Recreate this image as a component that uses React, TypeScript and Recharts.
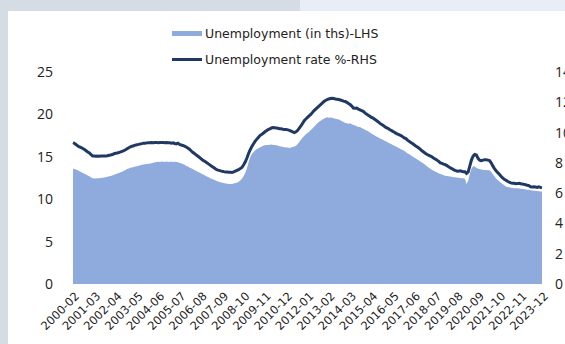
import React from 'react';
import { ComposedChart, Area, Line, XAxis, YAxis } from 'recharts';

// month labels 2000-02 .. 2023-12
const startYear = 2000;
const startMonth = 2;
const monthCount = 287;
const months: string[] = [];
for (let i = 0; i < monthCount; i++) {
  const m = startMonth - 1 + i;
  const y = startYear + Math.floor(m / 12);
  const mm = (m % 12) + 1;
  months.push(`${y}-${mm < 10 ? '0' + mm : mm}`);
}

// Unemployment (in ths) - LHS, one row per year
const unemployment = [
  13.6, 13.55, 13.48, 13.4, 13.3, 13.2, 13.1, 13.0, 12.9, 12.8, 12.7, // 2000
  12.55, 12.48, 12.45, 12.45, 12.46, 12.48, 12.5, 12.52, 12.55, 12.6, 12.65, 12.7,
  12.75, 12.8, 12.88, 12.95, 13.02, 13.1, 13.18, 13.25, 13.35, 13.45, 13.55, 13.62,
  13.7, 13.75, 13.8, 13.85, 13.9, 13.95, 14.0, 14.05, 14.1, 14.12, 14.15, 14.18,
  14.2, 14.25, 14.3, 14.35, 14.38, 14.42, 14.4, 14.45, 14.42, 14.4, 14.45, 14.42,
  14.4, 14.45, 14.38, 14.42, 14.4, 14.35, 14.3, 14.22, 14.15, 14.05, 13.95, 13.85, // 2005
  13.75, 13.65, 13.55, 13.45, 13.35, 13.25, 13.15, 13.05, 12.95, 12.85, 12.75, 12.65,
  12.55, 12.45, 12.38, 12.3, 12.2, 12.12, 12.06, 12.0, 11.95, 11.9, 11.85, 11.82,
  11.8, 11.78, 11.8, 11.85, 11.9, 11.95, 12.05, 12.2, 12.4, 12.7, 13.1, 13.6,
  14.3, 14.95, 15.3, 15.55, 15.75, 15.9, 16.0, 16.1, 16.2, 16.3, 16.35, 16.4,
  16.4, 16.42, 16.45, 16.4, 16.38, 16.35, 16.3, 16.25, 16.2, 16.15, 16.12, 16.1, // 2010
  16.1, 16.05, 16.1, 16.15, 16.2, 16.3, 16.5, 16.75, 17.0, 17.25, 17.45, 17.65,
  17.8, 17.95, 18.15, 18.35, 18.55, 18.75, 18.95, 19.1, 19.25, 19.4, 19.5, 19.6,
  19.65, 19.6, 19.62, 19.6, 19.55, 19.5, 19.45, 19.4, 19.3, 19.2, 19.1, 19.0,
  18.95, 18.9, 18.95, 18.85, 18.75, 18.7, 18.6, 18.5, 18.5, 18.4, 18.3, 18.2,
  18.1, 18.0, 17.88, 17.75, 17.62, 17.5, 17.4, 17.3, 17.2, 17.1, 17.0, 16.9, // 2015
  16.8, 16.7, 16.6, 16.5, 16.4, 16.3, 16.2, 16.1, 16.0, 15.9, 15.8, 15.7,
  15.55, 15.42, 15.3, 15.18, 15.05, 14.92, 14.8, 14.68, 14.55, 14.42, 14.3, 14.18,
  14.0, 13.85, 13.72, 13.58, 13.45, 13.35, 13.25, 13.15, 13.05, 12.98, 12.9, 12.82,
  12.78, 12.75, 12.7, 12.68, 12.65, 12.6, 12.58, 12.55, 12.52, 12.5, 12.48, 12.46,
  12.4, 11.8, 12.2, 13.0, 13.6, 13.9, 13.85, 13.7, 13.6, 13.55, 13.5, 13.48, // 2020
  13.45, 13.45, 13.42, 13.4, 13.2, 12.95, 12.7, 12.45, 12.25, 12.1, 11.95, 11.8,
  11.65, 11.5, 11.45, 11.4, 11.35, 11.32, 11.3, 11.3, 11.28, 11.25, 11.22, 11.2,
  11.2, 11.15, 11.12, 11.1, 11.05, 11.02, 11.0, 11.0, 10.98, 10.95, 10.92, 10.9,
];

// Unemployment rate % - RHS
const unemploymentRate = [
  9.33, 9.28, 9.2, 9.12, 9.05, 9.0, 8.95, 8.88, 8.8, 8.72, 8.65, // 2000
  8.55, 8.45, 8.45, 8.43, 8.45, 8.44, 8.45, 8.45, 8.46, 8.45, 8.47, 8.5,
  8.52, 8.55, 8.6, 8.63, 8.65, 8.68, 8.72, 8.76, 8.8, 8.86, 8.93, 9.0,
  9.05, 9.1, 9.13, 9.17, 9.2, 9.22, 9.25, 9.27, 9.3, 9.3, 9.32, 9.33,
  9.33, 9.34, 9.33, 9.35, 9.34, 9.33, 9.34, 9.35, 9.34, 9.33, 9.34, 9.33,
  9.33, 9.3, 9.32, 9.28, 9.25, 9.3, 9.22, 9.18, 9.15, 9.1, 9.05, 8.98, // 2005
  8.9, 8.8, 8.7, 8.62, 8.53, 8.45, 8.37, 8.28, 8.19, 8.12, 8.05, 7.98,
  7.9, 7.82, 7.75, 7.68, 7.6, 7.53, 7.5, 7.47, 7.45, 7.42, 7.4, 7.4,
  7.38, 7.38, 7.37, 7.4, 7.45, 7.5, 7.55, 7.62, 7.7, 7.86, 8.05, 8.3,
  8.6, 8.85, 9.07, 9.25, 9.42, 9.55, 9.68, 9.8, 9.88, 9.95, 10.05, 10.12,
  10.2, 10.25, 10.3, 10.33, 10.32, 10.3, 10.28, 10.25, 10.25, 10.22, 10.2, 10.2, // 2010
  10.18, 10.15, 10.1, 10.05, 10.0, 10.05, 10.15, 10.3, 10.45, 10.6, 10.78, 10.9,
  11.0, 11.1, 11.2, 11.32, 11.45, 11.55, 11.65, 11.75, 11.85, 11.95, 12.05, 12.12,
  12.18, 12.22, 12.25, 12.26, 12.25, 12.22, 12.2, 12.18, 12.15, 12.12, 12.08, 12.05,
  12.0, 11.92, 11.85, 11.75, 11.62, 11.6, 11.62, 11.55, 11.5, 11.45, 11.4, 11.3,
  11.22, 11.15, 11.08, 11.0, 10.95, 10.88, 10.8, 10.72, 10.62, 10.55, 10.48, 10.4, // 2015
  10.33, 10.28, 10.2, 10.15, 10.08, 10.02, 9.95, 9.9, 9.85, 9.8, 9.73, 9.65,
  9.6, 9.5, 9.42, 9.35, 9.28, 9.2, 9.12, 9.05, 8.97, 8.88, 8.78, 8.7,
  8.62, 8.55, 8.5, 8.45, 8.38, 8.3, 8.25, 8.18, 8.1, 8.0, 7.97, 7.92,
  7.88, 7.82, 7.75, 7.68, 7.62, 7.55, 7.5, 7.46, 7.45, 7.47, 7.45, 7.42,
  7.42, 7.3, 7.4, 7.8, 8.2, 8.45, 8.55, 8.52, 8.3, 8.18, 8.15, 8.18, // 2020
  8.2, 8.2, 8.18, 8.15, 8.0, 7.8, 7.62, 7.48, 7.35, 7.25, 7.12, 7.0,
  6.92, 6.85, 6.78, 6.72, 6.68, 6.65, 6.65, 6.62, 6.63, 6.65, 6.62, 6.6,
  6.58, 6.55, 6.52, 6.5, 6.42, 6.4, 6.42, 6.4, 6.38, 6.42, 6.38, 6.36,
];

const leftTicks = [0, 5, 10, 15, 20, 25];
const rightTicks = [0, 2, 4, 6, 8, 10, 12, 14];

const data = months.map((month, i) => ({
  month,
  level: unemployment[i],
  rate: unemploymentRate[i],
}));

const FONT = 'Open Sans, sans-serif';
const WIDE_FONT = 'DejaVu Sans, sans-serif';
const AREA_COLOR = '#8faadc';
const LINE_COLOR = '#1f3864';

const DateTick = (props: any) => {
  const { x, y, payload } = props;
  return (
    <g transform={`translate(${x + 4},${y + 2})`}>
      <text
        transform="rotate(-45)"
        textAnchor="end"
        dy="0.35em"
        fontSize={11.5}
        fontFamily={WIDE_FONT}
        fill="#222"
      >
        {payload.value}
      </text>
    </g>
  );
};

export default function App() {
  return (
    <div style={{ position: 'fixed', left: 0, top: 0, width: 565, height: 344, background: '#d6dce4', overflow: 'hidden' }}>
      <div style={{ position: 'absolute', left: 300, top: 0, width: 265, height: 11, background: '#e9edf5' }} />
      <div style={{ position: 'absolute', left: 8, top: 11, right: 0, bottom: 0, background: '#fff' }} />

      {/* legend */}
      <div style={{ position: 'absolute', left: 172, top: 24, fontFamily: WIDE_FONT, fontSize: 12.5, color: '#222' }}>
        <div style={{ display: 'flex', alignItems: 'center', height: 18 }}>
          <span style={{ display: 'inline-block', width: 30, height: 5, background: AREA_COLOR, marginRight: 3 }} />
          Unemployment (in ths)-LHS
        </div>
        <div style={{ display: 'flex', alignItems: 'center', height: 18, marginTop: 8 }}>
          <span style={{ display: 'inline-block', width: 30, height: 3, background: LINE_COLOR, marginRight: 3 }} />
          Unemployment rate %-RHS
        </div>
      </div>

      <div style={{ position: 'absolute', left: 0, top: 0 }}>
        <ComposedChart width={565} height={344} data={data} margin={{ top: 72, right: 0, bottom: 0, left: 0 }}>
          <XAxis
            dataKey="month"
            scale="point"
            interval={12}
            axisLine={false}
            tickLine={false}
            height={60}
            tick={<DateTick />}
          />
          <YAxis
            yAxisId="left"
            width={73}
            domain={[0, 25]}
            ticks={leftTicks}
            axisLine={false}
            tickLine={false}
            tickSize={0}
            tickMargin={20}
            tick={{ fontSize: 14, fontFamily: FONT, fill: '#222' }}
          />
          <YAxis
            yAxisId="right"
            orientation="right"
            width={23}
            domain={[0, 14]}
            ticks={rightTicks}
            axisLine={false}
            tickLine={false}
            tickSize={0}
            tickMargin={13}
            tick={{ fontSize: 14, fontFamily: FONT, fill: '#222', textAnchor: 'start' }}
          />
          <Area
            yAxisId="left"
            type="linear"
            dataKey="level"
            stroke="none"
            fill={AREA_COLOR}
            fillOpacity={1}
            isAnimationActive={false}
          />
          <Line
            yAxisId="right"
            type="linear"
            dataKey="rate"
            stroke={LINE_COLOR}
            strokeWidth={3}
            dot={false}
            isAnimationActive={false}
          />
        </ComposedChart>
      </div>
    </div>
  );
}
